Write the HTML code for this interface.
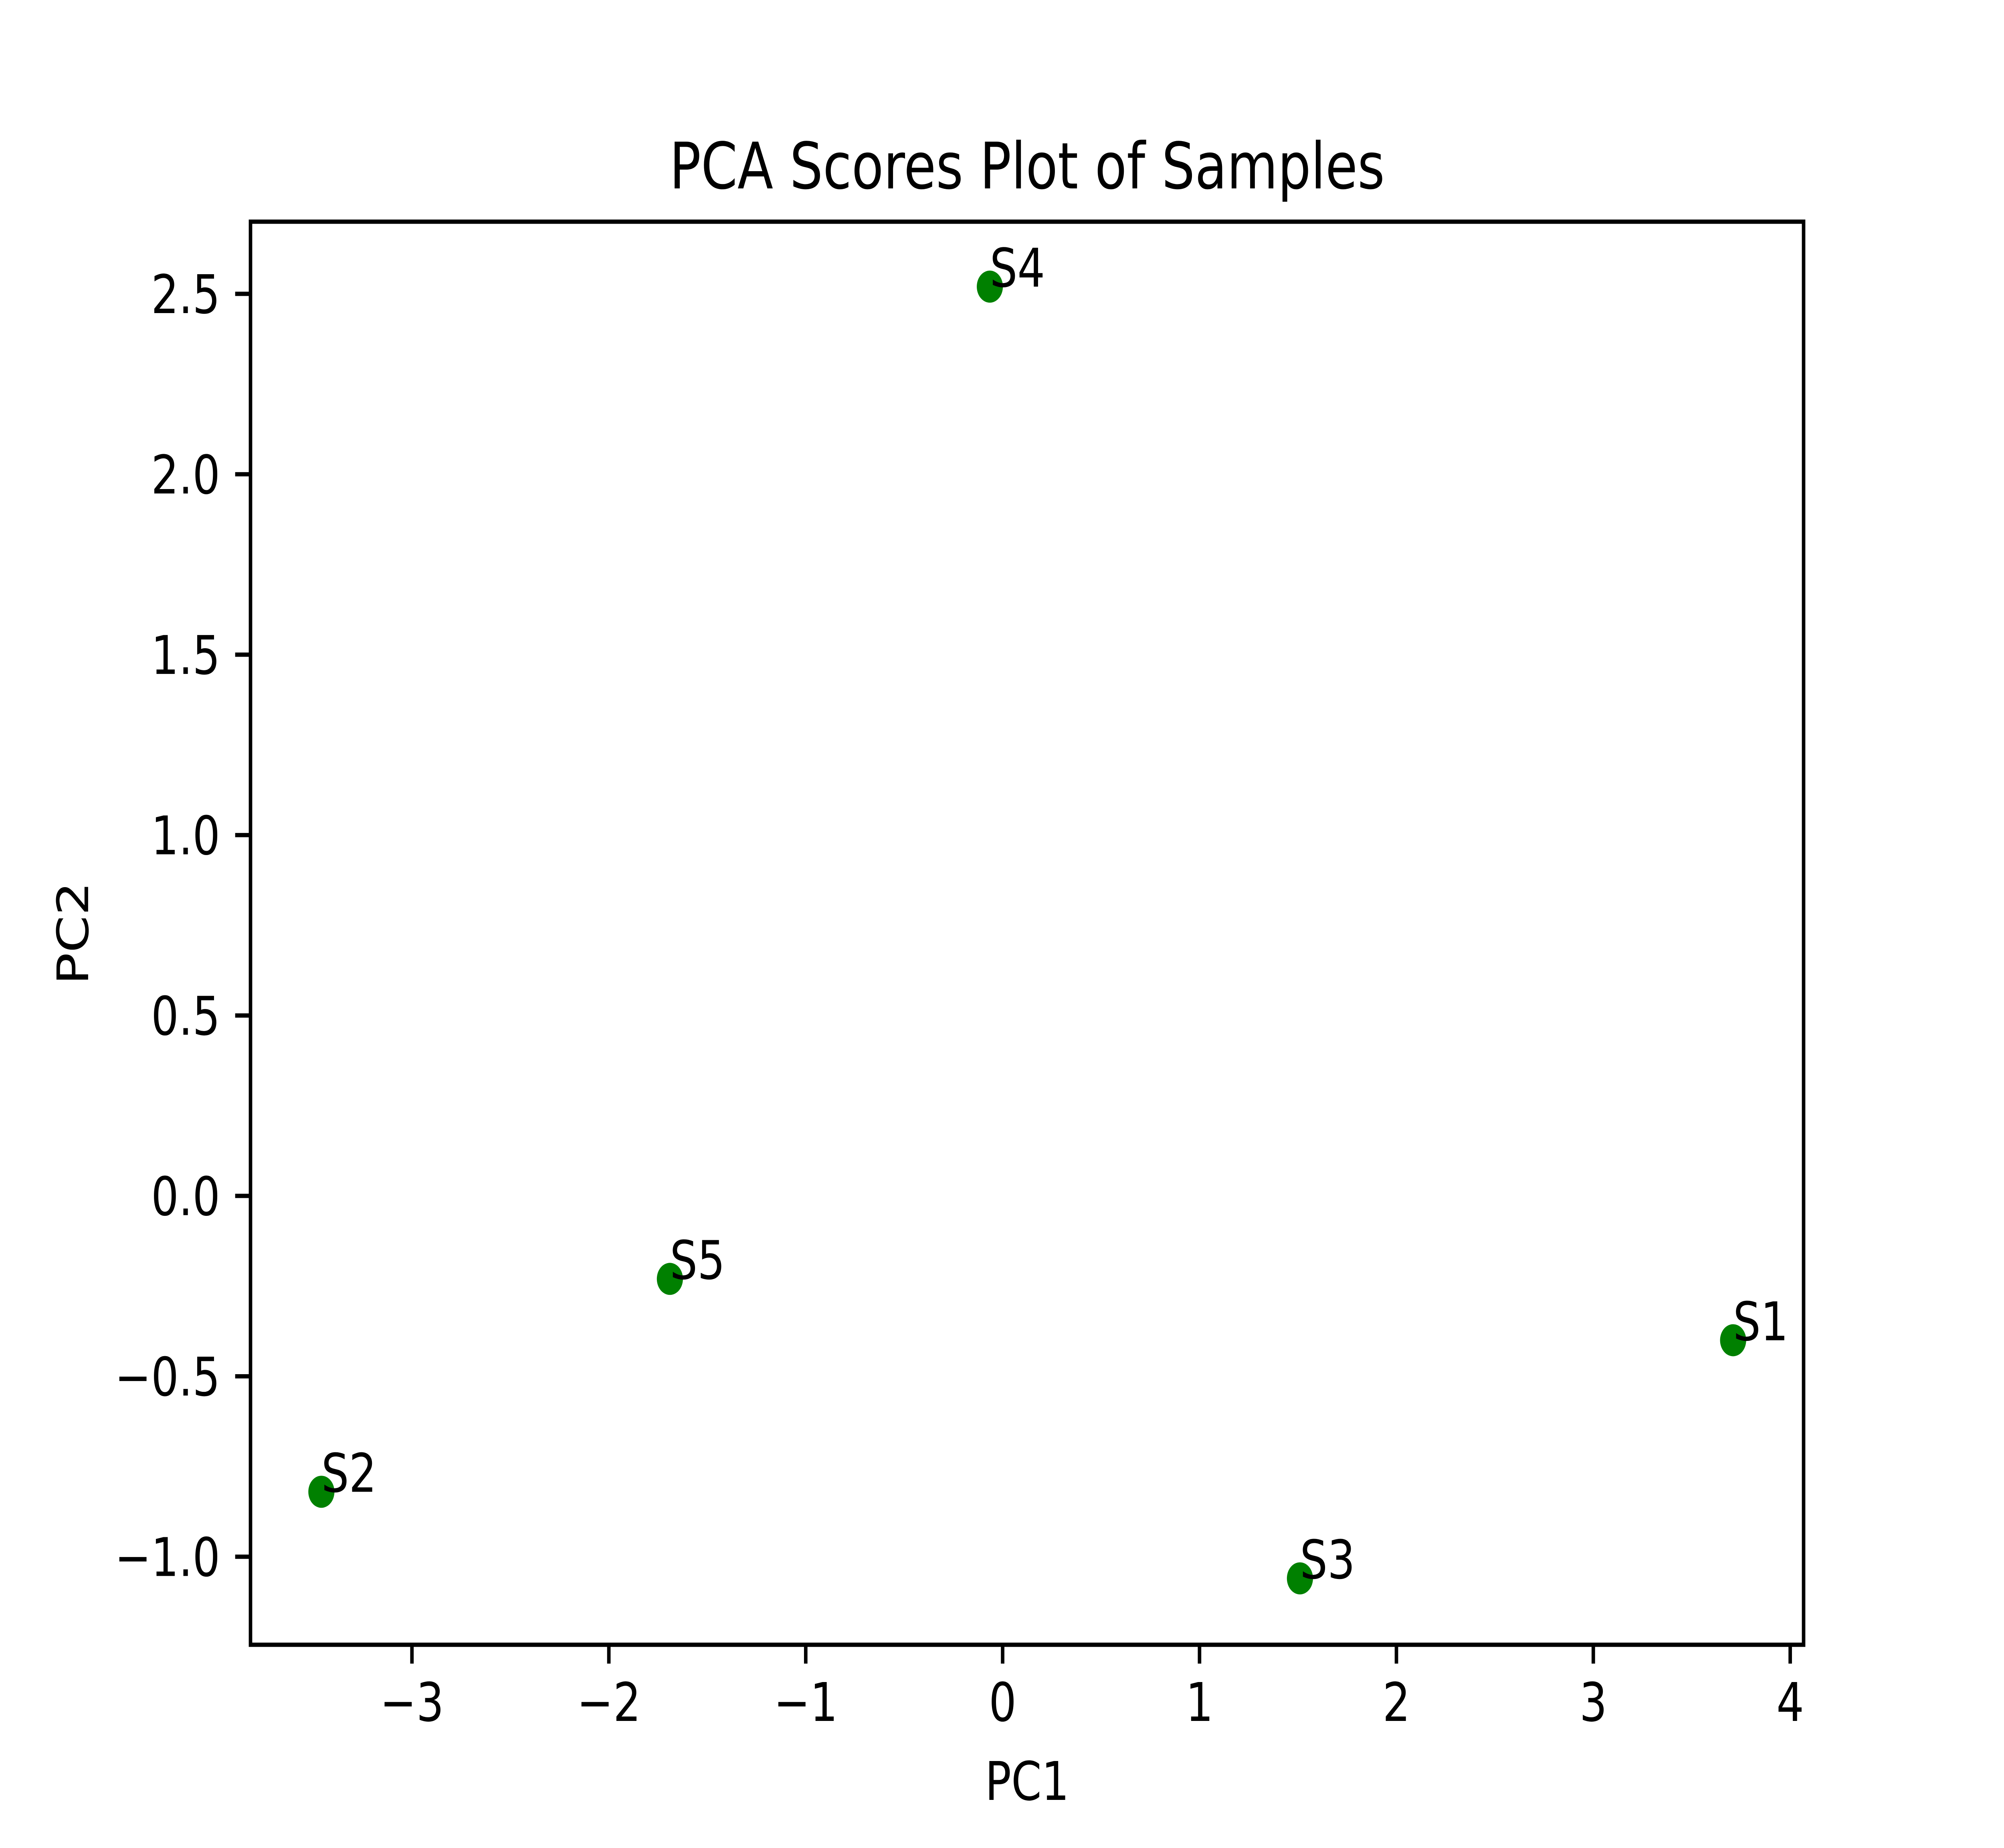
<!DOCTYPE html>
<html><head><meta charset="utf-8"><style>
html,body{margin:0;padding:0;background:#fff;width:100%;height:100%;overflow:hidden;}
svg{display:block;width:100vw;height:100vh;font-family:"DejaVu Sans","Liberation Sans",sans-serif;}
</style></head><body>
<svg id="chart" viewBox="0 0 6140 4610" preserveAspectRatio="none" xmlns="http://www.w3.org/2000/svg">
<rect width="6140" height="4610" fill="#fff"/>
<text x="3147" y="470" font-size="160" text-anchor="middle">PCA Scores Plot of Samples</text>
<g id="plot"></g>
<text x="3147" y="4490" font-size="133" text-anchor="middle">PC1</text>
<text x="270" y="2328" font-size="133" text-anchor="middle" transform="rotate(-90 270 2328)">PC2</text>
</svg>
<script>
const sampleLabels = ["S1","S2","S3","S4","S5"];
const pc1Values = [3.71, -3.46, 1.51, -0.065, -1.69];
const pc2Values = [-0.40, -0.82, -1.06, 2.52, -0.23];
const xTicks = [-3,-2,-1,0,1,2,3,4];
const yTicks = [-1.0,-0.5,0.0,0.5,1.0,1.5,2.0,2.5];

const L=767.5,R=5526,T=553,B=4103;
const xmin=-3.82,xmax=4.068,ymin=-1.244,ymax=2.70;
function sx(v){return L+(v-xmin)/(xmax-xmin)*(R-L);}
function sy(v){return B-(v-ymin)/(ymax-ymin)*(B-T);}
const NS="http://www.w3.org/2000/svg";
const g=document.getElementById('plot');
function mk(tag,attrs,parent){const e=document.createElementNS(NS,tag);for(const k in attrs)e.setAttribute(k,attrs[k]);(parent||g).appendChild(e);return e;}
function fmtX(v){return (v<0?"\u2212":"")+Math.abs(v);}
function fmtY(v){return (v<0?"\u2212":"")+Math.abs(v).toFixed(1);}
xTicks.forEach(v=>{
  const x=sx(v);
  const t=mk('line',{x1:x,x2:x,y1:B,y2:B+47,stroke:'#000','stroke-width':10.7});
  
  
  const tx=mk('text',{x:x,y:B+190,'font-size':133,'text-anchor':'middle'});
  tx.textContent=fmtX(v);
  
  
});
yTicks.forEach(v=>{
  const y=sy(v);
  const t=mk('line',{x1:L-47,x2:L,y1:y,y2:y,stroke:'#000','stroke-width':10.7});
  
  
  const tx=mk('text',{x:L-93,y:y+48,'font-size':133,'text-anchor':'end'});
  tx.textContent=fmtY(v);
  
  
});
sampleLabels.forEach((s,i)=>{
  const x=sx(pc1Values[i]),y=sy(pc2Values[i]);
  const c=mk('circle',{cx:x,cy:y,r:40,fill:'#008000'});
  
  
  const t=mk('text',{x:x,y:y,'font-size':133});
  t.textContent=s;
  
  
});
const fr=mk('rect',{x:L,y:T,width:R-L,height:B-T,fill:'none',stroke:'#000','stroke-width':10.7});


</script>
</body></html>
